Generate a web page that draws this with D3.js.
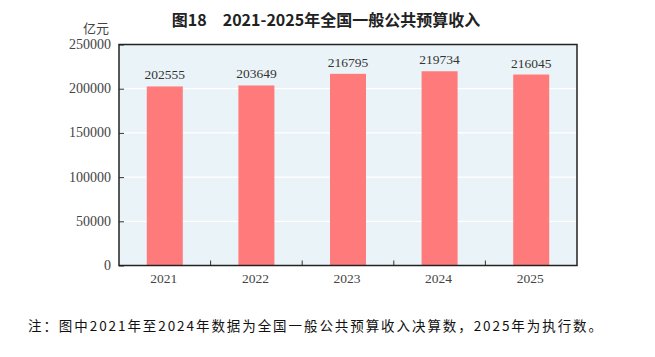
<!DOCTYPE html>
<html><head><meta charset="utf-8">
<script src="https://cdn.jsdelivr.net/npm/d3@7"></script>
<style>body{margin:0;background:#fff}svg{display:block}</style>
</head><body>
<svg id="c" width="655" height="357"></svg>
<script>
const years = ["2021","2022","2023","2024","2025"];
const revenue = [202555, 203649, 216795, 219734, 216045];
const yTicks = [0, 50000, 100000, 150000, 200000, 250000];
const titleText = "图18\u30002021-2025年全国一般公共预算收入";
const unitText = "亿元";
const noteText = "注：图中2021年至2024年数据为全国一般公共预算收入决算数，2025年为执行数。";

const svg = d3.select("#c");
const m = {l:119, r:577, t:44.5, b:265.5};
const x = d3.scaleBand().domain(years).range([m.l, m.r]).paddingInner(0).paddingOuter(0);
const y = d3.scaleLinear().domain([0, 250000]).range([m.b, m.t]);
const serif = "'Liberation Serif','Times New Roman',serif";
const cjk = "'Noto Sans CJK SC',sans-serif";

svg.append("rect").attr("x", m.l).attr("y", m.t).attr("width", m.r-m.l).attr("height", m.b-m.t).attr("fill", "#eaf3f7");

// gridlines
svg.append("g").selectAll("line").data(yTicks.slice(1,-1)).join("line")
  .attr("x1", m.l).attr("x2", m.r).attr("y1", d=>y(d)).attr("y2", d=>y(d))
  .attr("stroke", "#fff").attr("stroke-width", 1.2);

// bars
const bw = 36;
svg.append("g").selectAll("rect").data(revenue).join("rect")
  .attr("x", (d,i)=>x(years[i]) + x.bandwidth()/2 - bw/2)
  .attr("width", bw)
  .attr("y", d=>y(d)).attr("height", d=>m.b - y(d))
  .attr("fill", "#ff7b7b");

// value labels
svg.append("g").selectAll("text").data(revenue).join("text")
  .attr("x", (d,i)=>x(years[i]) + x.bandwidth()/2)
  .attr("y", d=>y(d) - 7)
  .attr("text-anchor", "middle").attr("font-family", serif).attr("font-size", 13.5).attr("fill", "#333")
  .text(d=>d);

// y axis
const yAxis = d3.axisRight(y).tickValues(yTicks).tickSize(5).tickFormat("");
svg.append("g").attr("transform", `translate(${m.l},0)`).call(yAxis)
  .call(g=>g.select(".domain").remove())
  .call(g=>g.selectAll("line").attr("stroke","#333"));
svg.append("g").selectAll("text").data(yTicks).join("text")
  .attr("x", 111).attr("y", d=>y(d) + 4.5)
  .attr("text-anchor","end").attr("font-family", serif).attr("font-size", 14).attr("fill","#444")
  .text(d=>d);

// x axis ticks at band boundaries
const bounds = years.slice(1).map(yy=>x(yy));
svg.append("g").selectAll("line").data(bounds).join("line")
  .attr("x1", d=>d).attr("x2", d=>d).attr("y1", m.b).attr("y2", m.b-5)
  .attr("stroke","#333");
svg.append("g").selectAll("text").data(years).join("text")
  .attr("x", d=>x(d)+x.bandwidth()/2 - 1).attr("y", 283)
  .attr("text-anchor","middle").attr("font-family", serif).attr("font-size", 13.5).attr("fill","#444")
  .text(d=>d);

// frame
svg.append("rect").attr("x", m.l).attr("y", m.t).attr("width", m.r-m.l).attr("height", m.b-m.t)
  .attr("fill","none").attr("stroke","#222").attr("stroke-width",1.5);

// title
svg.append("text").attr("x", 326).attr("y", 26).attr("text-anchor","middle")
  .attr("font-family", cjk).attr("font-weight","bold").attr("font-size", 16).attr("fill","#222")
  .text(titleText);
svg.append("text").attr("x", 109).attr("y", 33).attr("text-anchor","end")
  .attr("font-family", cjk).attr("font-size", 13).attr("fill","#444").text(unitText);

// note
svg.append("text").attr("x", 28).attr("y", 331)
  .attr("font-family", cjk).attr("font-size", 13.5).attr("fill","#111")
  .attr("textLength", 574).attr("lengthAdjust", "spacing")
  .text(noteText);
</script>
</body></html>
